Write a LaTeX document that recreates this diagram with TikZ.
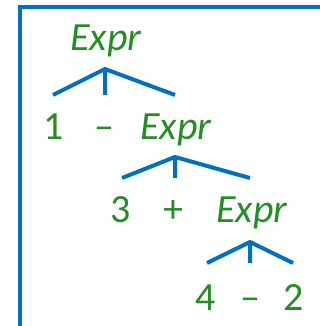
\documentclass[tikz,border=0pt]{standalone}
\usepackage{fontspec}
\setmainfont{Carlito}
\definecolor{treegreen}{RGB}{38,140,38}
\definecolor{treeblue}{RGB}{0,112,192}
\begin{document}
\begin{tikzpicture}[x=1pt,y=-1pt,
  lbl/.style={anchor=base,inner sep=0pt,text=treegreen,font=\fontsize{40}{48}\selectfont},
  nt/.style={lbl,font=\fontsize{40}{48}\selectfont\itshape},
  branch/.style={draw=treeblue,line width=4pt},
  frameline/.style={draw=treeblue,line width=4pt}]
\useasboundingbox (0,0) rectangle (320,326);
\clip (0,0) rectangle (320,326);
\draw[frameline] (20,340) -- (20,7) -- (340,7);
% labels
\node[nt] (e1) at (106,51) {Expr};
\node[lbl] (n1) at (53.5,139) {1};
\node[lbl] (m1) at (104.5,139) {–};
\node[nt] (e2) at (176,139) {Expr};
\node[lbl] (n3) at (120.5,222) {3};
\node[lbl] (p1) at (173,222) {+};
\node[nt] (e3) at (252,222) {Expr};
\node[lbl] (n4) at (205.5,310) {4};
\node[lbl] (m2) at (250,310) {–};
\node[lbl] (n2) at (293.5,310) {2};
% bracket coordinates
\coordinate (a1) at (105,69);
\coordinate (l1) at (53,95);
\coordinate (s1) at (105,95);
\coordinate (r1) at (175,95);
\coordinate (a2) at (175,157);
\coordinate (l2) at (122,178);
\coordinate (s2) at (175,178);
\coordinate (r2) at (250,178);
\coordinate (a3) at (250,242);
\coordinate (l3) at (207,263);
\coordinate (s3) at (250,263);
\coordinate (r3) at (293,263);
\draw[branch] (l1) -- (a1) -- (r1) (a1) -- (s1);
\draw[branch] (l2) -- (a2) -- (r2) (a2) -- (s2);
\draw[branch] (l3) -- (a3) -- (r3) (a3) -- (s3);
\end{tikzpicture}
\end{document}
